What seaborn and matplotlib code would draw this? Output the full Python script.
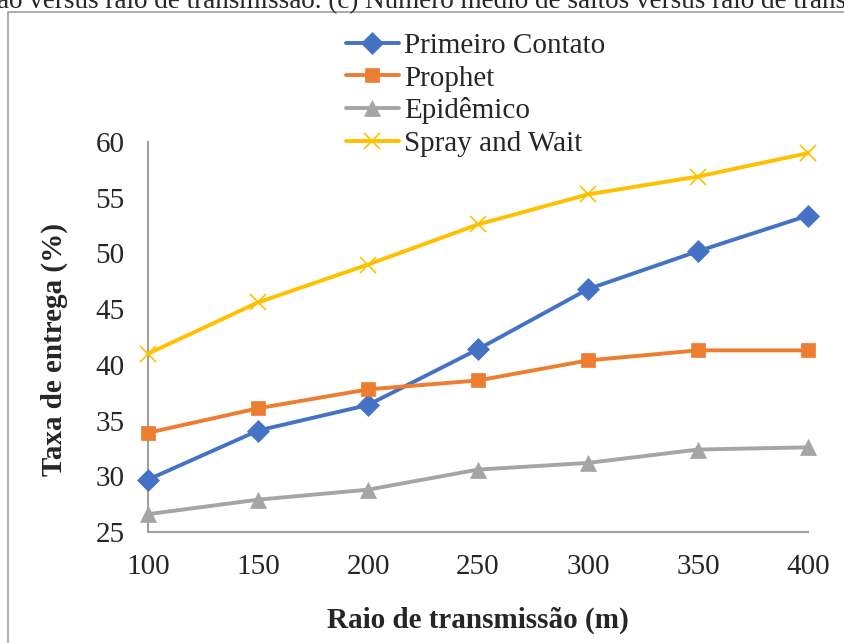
import matplotlib
matplotlib.use("Agg")
import matplotlib.pyplot as plt
import seaborn as sns
from matplotlib.patches import Rectangle

raio = [100, 150, 200, 250, 300, 350, 400]
primeiro_contato = [29.7, 34.1, 36.4, 41.4, 46.8, 50.2, 53.4]
prophet = [33.9, 36.1, 37.8, 38.6, 40.4, 41.3, 41.3]
epidemico = [26.6, 27.9, 28.8, 30.6, 31.2, 32.4, 32.6]
spray_and_wait = [41.0, 45.6, 49.0, 52.6, 55.3, 56.9, 59.0]

series = [
    ("Primeiro Contato", primeiro_contato, "#4472C4", "D", 11),
    ("Prophet", prophet, "#ED7D31", "s", 10.5),
    ("Epidêmico", epidemico, "#A5A5A5", "^", 11),
    ("Spray and Wait", spray_and_wait, "#FFC000", "x", 11),
]

sns.set_style("white")
plt.rcParams["font.family"] = ["Liberation Serif", "DejaVu Serif"]

fig = plt.figure(figsize=(8.44, 6.43), dpi=100)
ax = fig.add_axes([148 / 844, 1 - 532 / 643, 660 / 844, 390 / 643])

for name, vals, color, marker, ms in series:
    sns.lineplot(x=raio, y=vals, ax=ax, color=color, marker=marker,
                 markersize=ms, markeredgecolor=color,
                 markeredgewidth=1.2 if marker == "x" else 0.5,
                 linewidth=2.8, label=name, clip_on=False, zorder=3)

ax.set_xlim(100, 400)
ax.set_ylim(25, 60)
ax.set_xticks(raio)
ax.set_yticks(range(25, 61, 5))

for side in ["top", "right"]:
    ax.spines[side].set_visible(False)
for side in ["left", "bottom"]:
    ax.spines[side].set_color("#A0A0A0")
    ax.spines[side].set_linewidth(1.5)
    ax.spines[side].set_zorder(1)
ax.tick_params(axis="both", which="major", direction="out", length=6,
               width=1.2, color="#A0A0A0", labelsize=21)
ax.tick_params(axis="x", pad=10)
ax.tick_params(axis="y", pad=11)

ax.set_xlabel("Raio de transmissão (m)", fontsize=21, fontweight="bold")
ax.set_ylabel("Taxa de entrega (%)", fontsize=21, fontweight="bold")
ax.xaxis.set_label_coords(0.5, -0.192)
ax.yaxis.set_label_coords(-0.121, 0.467)

ax.legend(loc="upper left", bbox_to_anchor=(346 / 844, 1 - 33 / 643),
          bbox_transform=fig.transFigure, frameon=False, fontsize=21,
          handlelength=1.8, handletextpad=0.18, labelspacing=0.2,
          borderpad=0, borderaxespad=0)

# chart frame and clipped caption of the page it was cut from
fig.patches.append(Rectangle((8 / 844, -0.1), 1.2, 1 - 12 / 643 + 0.1,
                             transform=fig.transFigure, fill=False,
                             edgecolor="#A0A0A0", linewidth=1.2))
fig.text(-0.004, 1 - 8 / 643,
         "ão versus raio de transmissão. (c) Número médio de saltos versus raio de transmissão.",
         fontsize=19.5, ha="left", va="baseline")

fig.savefig("out.png", dpi=100)
